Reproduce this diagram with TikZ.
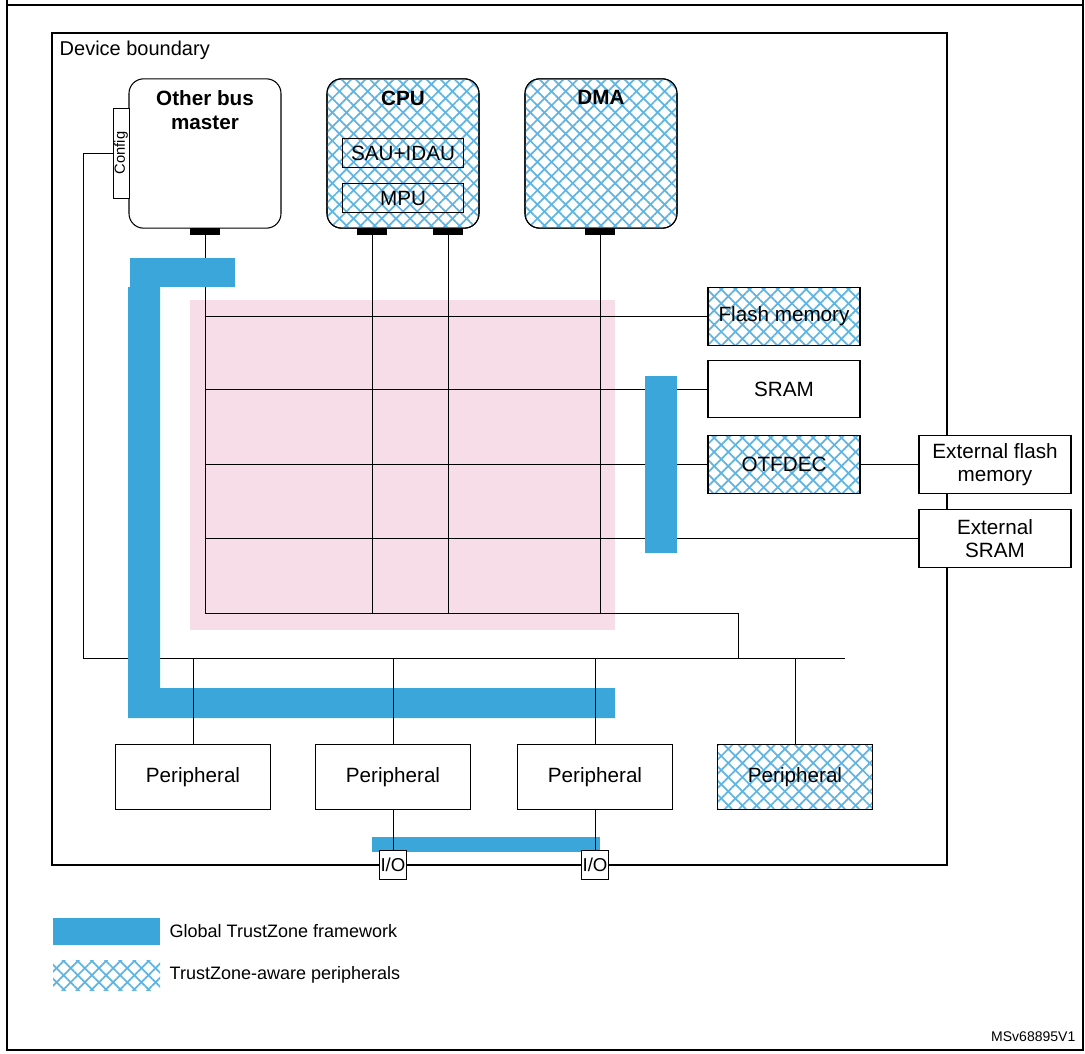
\documentclass[tikz,border=0pt]{standalone}
\usepackage{fontspec}
\setmainfont{Liberation Sans}
\usetikzlibrary{patterns.meta,positioning}
\definecolor{tzblue}{RGB}{58,166,218}
\definecolor{hatch}{RGB}{95,180,225}
\definecolor{matrixpink}{RGB}{247,221,232}
\tikzset{
  box/.style = {draw, thick, fill=white, align=center, inner sep=1pt, font=\fontsize{15.5}{17.5}\selectfont},
  aware/.style = {postaction={pattern={Lines[angle=45,distance=7.5pt,line width=1.3pt]}, pattern color=hatch},
                  postaction={pattern={Lines[angle=-45,distance=7.5pt,line width=1.3pt]}, pattern color=hatch},
                  postaction={draw}},
  master/.style = {box, rounded corners=11pt, minimum width=114pt, minimum height=112pt},
  mlabel/.style = {font=\bfseries\fontsize{15.5}{18}\selectfont, align=center, anchor=north},
  port/.style = {fill=black, minimum width=22pt, minimum height=5pt, inner sep=0pt},
  mem/.style = {box, minimum width=114pt, minimum height=43pt},
  periph/.style = {box, minimum width=116pt, minimum height=49pt},
  io/.style = {box, thin, minimum width=20pt, minimum height=22pt, inner sep=0pt, font=\fontsize{14}{15}\selectfont},
  wire/.style = {draw, line width=0.6pt}
}
\begin{document}
\begin{tikzpicture}[x=0.75pt, y=-0.75pt]
\useasboundingbox (0,0) rectangle (1085,1053);
\draw[thick] (7,-2) -- (7,1050) -- (1083,1050) -- (1083,-2);
\draw[thick] (7,5) -- (1083,5);
% device boundary
\draw[line width=1.6pt] (52,33) rectangle (947,865);
\node[anchor=north west, font=\fontsize{15}{17}\selectfont] (devlbl) at (55,36) {Device boundary};
\fill[matrixpink] (190,300) rectangle (615,630);
% bus masters
\node[master] (obm) at (205,153.5) {};
\node[mlabel] (obmlbl) at (205,86) {Other bus\\master};
\node[box, thin, rotate=90, minimum width=67.5pt, minimum height=12pt, inner sep=0pt, font=\fontsize{11}{12}\selectfont] (cfg) at (121,153) {Config};
\node[master, aware] (cpu) at (403,153.5) {};
\node[mlabel] (cpulbl) at (403,86) {CPU};
\node[box, thin, fill=none, minimum width=91pt, minimum height=22pt] (sau) at (403,153) {SAU+IDAU};
\node[box, thin, fill=none, minimum width=91pt, minimum height=22pt] (mpu) at (403,198) {MPU};
\node[master, aware] (dma) at (601,153.5) {};
\node[mlabel] (dmalbl) at (601,86) {DMA};
\node[port, anchor=north] (obmp) at (205,228) {};
\node[port, anchor=north] (cpup1) at (372,228) {};
\node[port, anchor=north] (cpup2) at (448,228) {};
\node[port, anchor=north] (dmap) at (600,228) {};
% memories
\node[mem, aware] (flash) at (784,316.5) {Flash memory};
\node[mem] (sram) at (784,389) {SRAM};
\node[mem, aware] (otf) at (784,464.5) {OTFDEC};
\node[mem] (extfl) at (995,464.5) {External flash\\memory};
\node[mem] (extsr) at (995,538.5) {External\\SRAM};
% peripherals
\node[periph] (p1) at (193,777) {Peripheral};
\node[periph] (p2) at (393,777) {Peripheral};
\node[periph] (p3) at (595,777) {Peripheral};
\node[periph, aware] (p4) at (795,777) {Peripheral};
% bus matrix
\coordinate (gbot) at (0,613);
\coordinate (pbus) at (0,658);
\coordinate (cfgx) at (83,0);
\foreach \p in {obmp,cpup1,cpup2,dmap}
  \draw[wire] (\p.south) -- (\p.south |- gbot);
\draw[wire] (obmp.south |- flash.west) -- (flash.west);
\draw[wire] (obmp.south |- sram.west) -- (sram.west);
\draw[wire] (obmp.south |- otf.west) -- (otf.west);
\draw[wire] (otf.east) -- (extfl.west);
\draw[wire] (obmp.south |- extsr.west) -- (extsr.west);
\draw[wire] (obmp.south |- gbot) -- (738,613) -- (738,658);
\draw[wire] (cfg.north) -| (cfgx |- pbus) -- (845,658);
% trustzone framework
\fill[tzblue] (130,258) rectangle (235,287);
\fill[tzblue] (128,287) rectangle (160,718) (160,688) rectangle (615,718);
\fill[tzblue] (645,376) rectangle (677,553);
\fill[tzblue] (372,837) rectangle (600,852);
\foreach \p in {p1,p2,p3,p4}
  \draw[wire] (\p.north |- pbus) -- (\p.north);
% I/O pins
\node[io] (io1) at (393,865) {I/O};
\node[io] (io2) at (595,865) {I/O};
\draw[wire] (p2.south) -- (io1.north);
\draw[wire] (p3.south) -- (io2.north);
% legend
\fill[tzblue] (53,918) rectangle (160,945);
\node[anchor=west, font=\fontsize{13.5}{15}\selectfont] (lg1) at (165,931) {Global TrustZone framework};
\path[postaction={pattern={Lines[angle=45,distance=7.5pt,line width=1.3pt]}, pattern color=hatch},
      postaction={pattern={Lines[angle=-45,distance=7.5pt,line width=1.3pt]}, pattern color=hatch}] (53,960) rectangle (160,990);
\node[anchor=west, font=\fontsize{13.5}{15}\selectfont] (lg2) at (165,975) {TrustZone-aware peripherals};
\node[anchor=east, font=\fontsize{10.5}{12}\selectfont] (ref) at (1080,1037) {MSv68895V1};
\end{tikzpicture}
\end{document}
